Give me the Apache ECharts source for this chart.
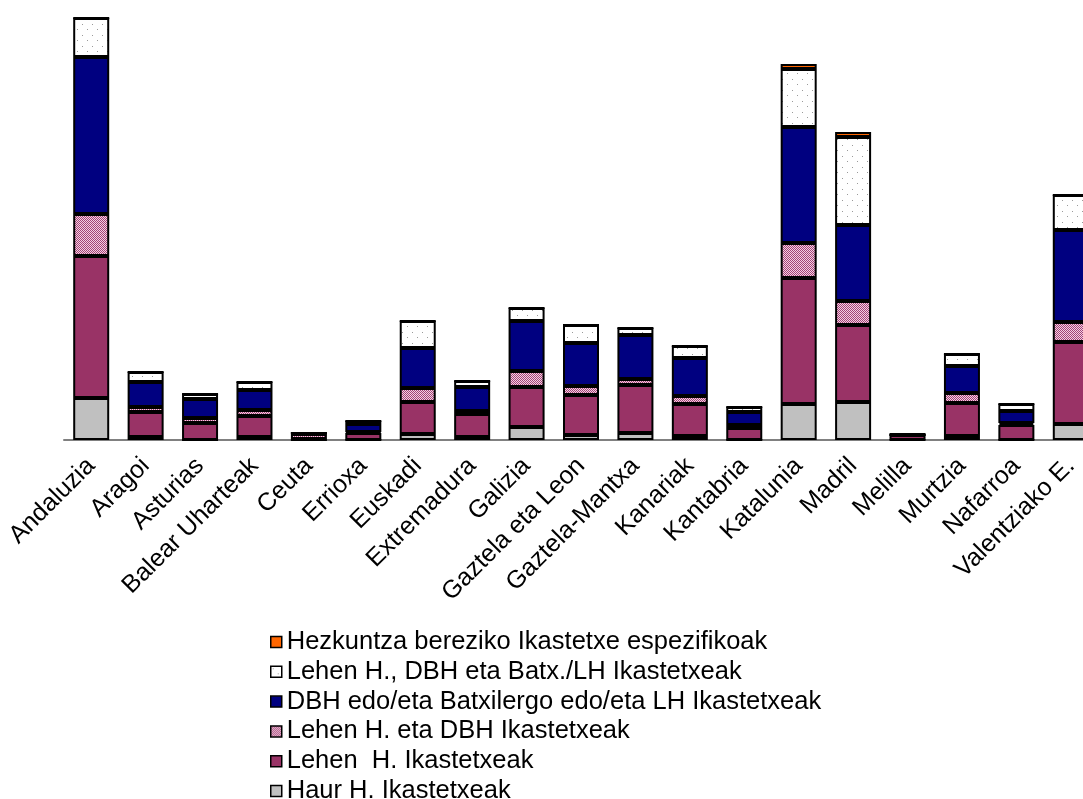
<!DOCTYPE html>
<html>
<head>
<meta charset="utf-8">
<script src="https://cdn.jsdelivr.net/npm/echarts@6/dist/echarts.min.js"></script>
<style>
html,body{margin:0;padding:0;background:#fff;}
#c{width:1083px;height:799px;}
</style>
</head>
<body>
<div id="c"></div>
<script>
var categories = ['Andaluzia','Aragoi','Asturias','Balear Uharteak','Ceuta','Errioxa','Euskadi','Extremadura','Galizia','Gaztela eta Leon','Gaztela-Mantxa','Kanariak','Kantabria','Katalunia','Madril','Melilla','Murtzia','Nafarroa','Valentziako E.'];

var haur     = [42, 3, 0, 3, 0, 0, 6, 3, 13, 5, 7, 4, 0, 36, 38, 0, 4, 0, 16];
var lehen    = [142, 25, 17, 21, 1, 7, 32, 23, 40, 40, 48, 32, 12, 126, 77, 5, 33, 15, 82];
var lehenDbh = [42, 5, 5, 6, 5, 1, 14, 3, 16, 9, 6, 8, 3, 35, 24, 0, 10, 2, 20];
var dbh      = [157, 25, 19, 20, 1, 8, 40, 24, 50, 43, 44, 38, 13, 116, 76, 0, 27, 12, 92];
var batx     = [39, 10, 5, 8, 0, 3, 27, 6, 13, 18, 7, 12, 5, 58, 88, 1, 12, 7, 35];
var berezi   = [0, 0, 0, 0, 0, 0, 0, 0, 0, 0, 0, 0, 0, 5, 5, 0, 0, 0, 0];

var names = {
  haur: 'Haur H. Ikastetxeak',
  lehen: 'Lehen  H. Ikastetxeak',
  lehenDbh: 'Lehen H. eta DBH Ikastetxeak',
  dbh: 'DBH edo/eta Batxilergo edo/eta LH Ikastetxeak',
  batx: 'Lehen H., DBH eta Batx./LH Ikastetxeak',
  berezi: 'Hezkuntza bereziko Ikastetxe espezifikoak'
};
var legendOrder = [names.berezi, names.batx, names.dbh, names.lehenDbh, names.lehen, names.haur];

function dotPattern(){
  var c = document.createElement('canvas'); c.width = 10; c.height = 11;
  var g = c.getContext('2d');
  g.fillStyle = '#ffffff'; g.fillRect(0,0,10,11);
  g.fillStyle = '#9a9a9a';
  g.fillRect(2,2,1,1); g.fillRect(7,7,1,1);
  return {image: c, repeat: 'repeat'};
}
function checkPattern(){
  var c = document.createElement('canvas'); c.width = 2; c.height = 2;
  var g = c.getContext('2d');
  g.fillStyle = '#f4d0e2'; g.fillRect(0,0,2,2);
  g.fillStyle = '#a34477';
  g.fillRect(0,0,1,1); g.fillRect(1,1,1,1);
  return {image: c, repeat: 'repeat'};
}

var FONT = '"Liberation Sans", Arial, sans-serif';

function mk(name, data, color){
  return {
    name: name, type: 'bar', stack: 'all', data: data, barWidth: 36,
    itemStyle: {color: color, borderColor: '#000', borderWidth: 2},
    emphasis: {disabled: true}
  };
}

var legends = legendOrder.map(function(n, i){
  return {
    orient: 'vertical', left: 270, top: 629 + i * 29.8, padding: 0,
    itemWidth: 11, itemHeight: 11,
    icon: 'rect',
    itemStyle: {borderWidth: 1.5, borderColor: '#000'},
    textStyle: {fontSize: 25.5, color: '#000', fontFamily: FONT},
    data: [n]
  };
});

var chart = echarts.init(document.getElementById('c'), null, {renderer: 'canvas'});
chart.setOption({
  animation: false,
  backgroundColor: '#fff',
  grid: {left: 64, top: 10, width: 1034, height: 430, containLabel: false, outerBoundsMode: 'none'},
  xAxis: {
    type: 'category', data: categories,
    axisLine: {show: true, lineStyle: {color: '#808080', width: 2}},
    axisTick: {show: false},
    axisLabel: {interval: 0, rotate: 45, margin: 22, color: '#000', fontSize: 25, fontFamily: FONT}
  },
  yAxis: {type: 'value', min: 0, max: 430, show: false, splitLine: {show: false}},
  legend: legends,
  series: [
    mk(names.haur, haur, '#c0c0c0'),
    mk(names.lehen, lehen, '#993366'),
    mk(names.lehenDbh, lehenDbh, checkPattern()),
    mk(names.dbh, dbh, '#000080'),
    mk(names.batx, batx, dotPattern()),
    mk(names.berezi, berezi, '#ff6600')
  ]
});
</script>
</body>
</html>
